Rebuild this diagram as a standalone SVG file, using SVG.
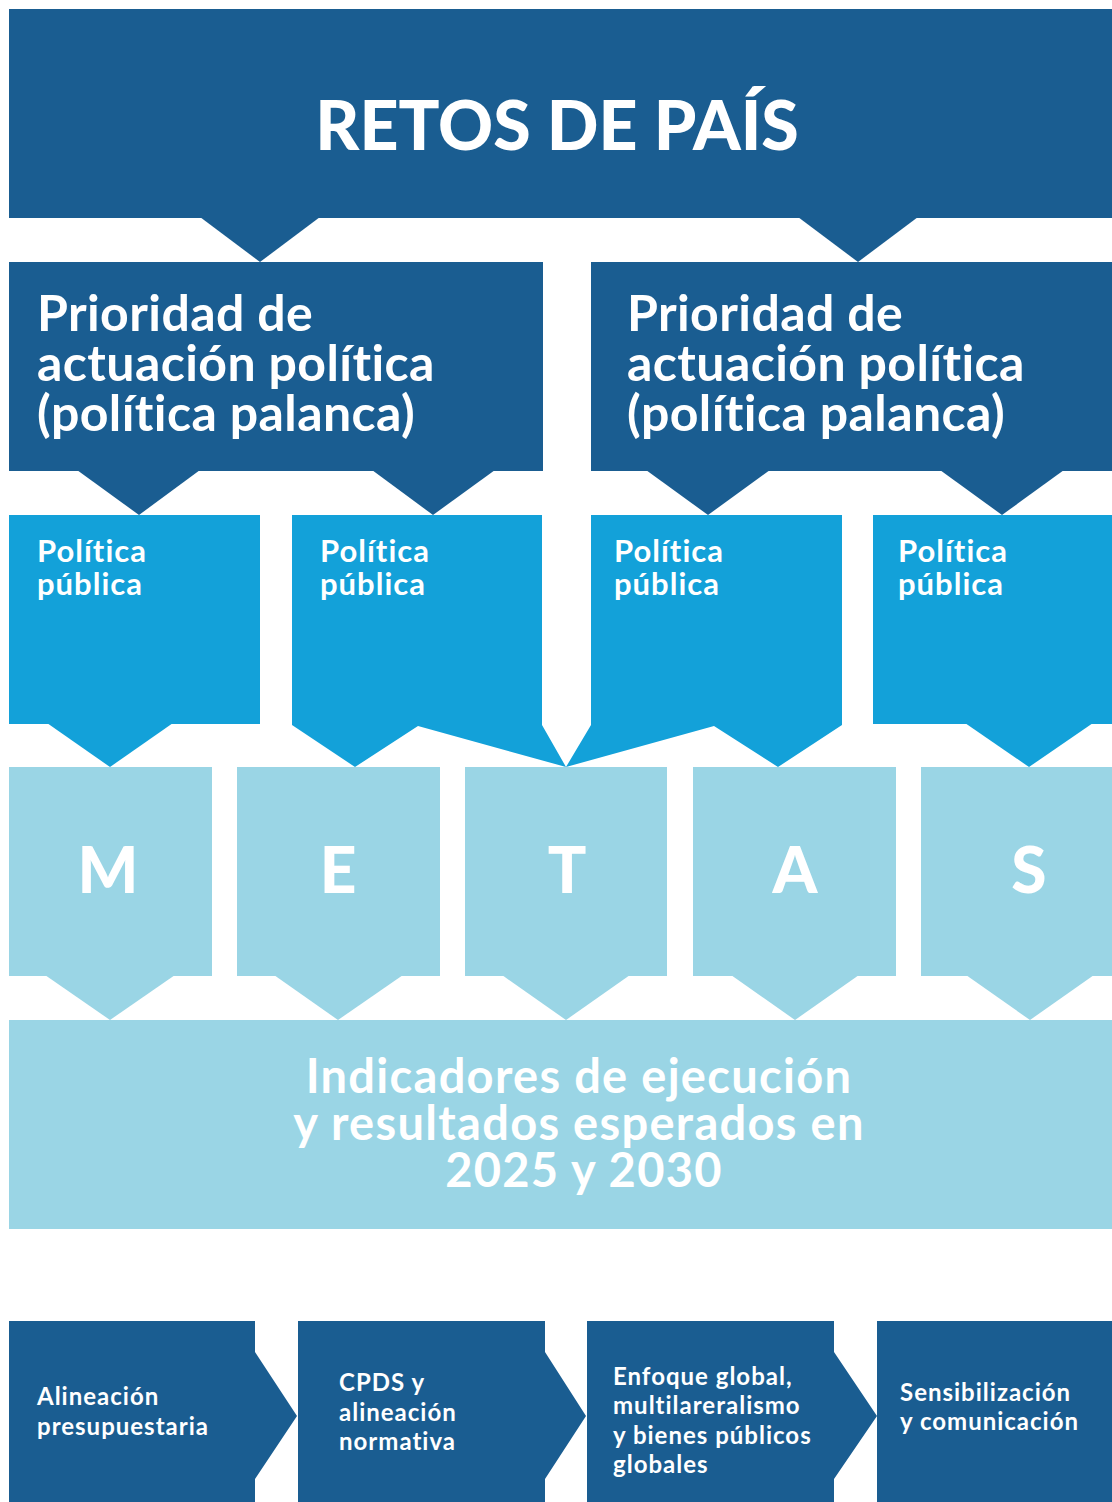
<svg xmlns="http://www.w3.org/2000/svg" width="1112" height="1502" viewBox="0 0 1112 1502">
<style>
.dk{fill:#1a5d91}
.md{fill:#13a1d9}
.lt{fill:#9ad5e5}
text{fill:#ffffff;font-family:Lato,"Open Sans","Liberation Sans",sans-serif;font-weight:bold}
.title{font-size:68px;font-weight:900;text-anchor:middle}
.prio{font-size:50px;letter-spacing:0.4px}
.pol{font-size:31px;letter-spacing:1px}
.meta{font-size:64px;font-weight:900;text-anchor:middle}
.ind{font-size:47px;letter-spacing:1.3px;text-anchor:middle}
.bot{font-size:24px;letter-spacing:1px}
</style>
<rect width="1112" height="1502" fill="#ffffff"/>
<g id="connectors">
<polygon class="dk" points="200,217 320,217 260,262"/>
<polygon class="dk" points="798,217 918,217 858,262"/>
<polygon class="dk" points="77,470 200,470 139,515"/>
<polygon class="dk" points="372,470 495,470 433,515"/>
<polygon class="dk" points="646,470 770,470 708,515"/>
<polygon class="dk" points="940,470 1064,470 1002,515"/>
<polygon class="md" points="47,723 173,723 110,767"/>
<polygon class="md" points="292,723 292,725 355,767 418,726 566,767 542,725 542,723"/>
<polygon class="md" points="591,723 591,725 566,767 714,726 778,767 842,725 842,723"/>
<polygon class="md" points="965,723 1093,723 1029,767"/>
<polygon class="lt" points="45,975 175,975 110,1020"/>
<polygon class="lt" points="274,975 403,975 338,1020"/>
<polygon class="lt" points="502,975 630,975 566,1020"/>
<polygon class="lt" points="731,975 859,975 795,1020"/>
<polygon class="lt" points="966,975 1094,975 1030,1020"/>
</g>
<g id="retos">
<rect class="dk" x="9" y="9" width="1103" height="209"/>
<text class="title" x="557" y="150">RETOS DE PAÍS</text>
</g>
<g id="prioridad1">
<rect class="dk" x="9" y="262" width="534" height="209"/>
<text class="prio"><tspan x="37" y="331">Prioridad de</tspan><tspan x="37" y="381">actuación política</tspan><tspan x="37" y="431">(política palanca)</tspan></text>
</g>
<g id="prioridad2">
<rect class="dk" x="591" y="262" width="521" height="209"/>
<text class="prio"><tspan x="627" y="331">Prioridad de</tspan><tspan x="627" y="381">actuación política</tspan><tspan x="627" y="431">(política palanca)</tspan></text>
</g>
<g id="politica1">
<rect class="md" x="9" y="515" width="251" height="209"/>
<text class="pol"><tspan x="37" y="562">Política</tspan><tspan x="37" y="595">pública</tspan></text>
</g>
<g id="politica2">
<rect class="md" x="292" y="515" width="250" height="209"/>
<text class="pol"><tspan x="320" y="562">Política</tspan><tspan x="320" y="595">pública</tspan></text>
</g>
<g id="politica3">
<rect class="md" x="591" y="515" width="251" height="209"/>
<text class="pol"><tspan x="614" y="562">Política</tspan><tspan x="614" y="595">pública</tspan></text>
</g>
<g id="politica4">
<rect class="md" x="873" y="515" width="239" height="209"/>
<text class="pol"><tspan x="898" y="562">Política</tspan><tspan x="898" y="595">pública</tspan></text>
</g>
<g id="meta-m">
<rect class="lt" x="9" y="767" width="203" height="209"/>
<text class="meta" x="108" y="893">M</text>
</g>
<g id="meta-e">
<rect class="lt" x="237" y="767" width="203" height="209"/>
<text class="meta" x="338" y="893">E</text>
</g>
<g id="meta-t">
<rect class="lt" x="465" y="767" width="202" height="209"/>
<text class="meta" x="567" y="893">T</text>
</g>
<g id="meta-a">
<rect class="lt" x="693" y="767" width="203" height="209"/>
<text class="meta" x="795" y="893">A</text>
</g>
<g id="meta-s">
<rect class="lt" x="921" y="767" width="191" height="209"/>
<text class="meta" x="1029" y="893">S</text>
</g>
<g id="indicadores">
<rect class="lt" x="9" y="1020" width="1103" height="209"/>
<text class="ind"><tspan x="579" y="1093">Indicadores de ejecución</tspan><tspan x="579" y="1140">y resultados esperados en</tspan><tspan x="584" y="1187">2025 y 2030</tspan></text>
</g>
<g id="alineacion">
<polygon class="dk" points="9,1321 255,1321 255,1352 297,1416 255,1479 255,1502 9,1502"/>
<text class="bot"><tspan x="37" y="1405">Alineación</tspan><tspan x="37" y="1435">presupuestaria</tspan></text>
</g>
<g id="cpds">
<polygon class="dk" points="298,1321 545,1321 545,1352 586,1416 545,1479 545,1502 298,1502"/>
<text class="bot"><tspan x="339" y="1391">CPDS y</tspan><tspan x="339" y="1421">alineación</tspan><tspan x="339" y="1450">normativa</tspan></text>
</g>
<g id="enfoque">
<polygon class="dk" points="587,1321 834,1321 834,1352 877,1416 834,1479 834,1502 587,1502"/>
<text class="bot"><tspan x="613" y="1385">Enfoque global,</tspan><tspan x="613" y="1414">multilareralismo</tspan><tspan x="613" y="1444">y bienes públicos</tspan><tspan x="613" y="1473">globales</tspan></text>
</g>
<g id="sensibilizacion">
<rect class="dk" x="877" y="1321" width="235" height="181"/>
<text class="bot"><tspan x="900" y="1401">Sensibilización</tspan><tspan x="900" y="1430">y comunicación</tspan></text>
</g>
</svg>
